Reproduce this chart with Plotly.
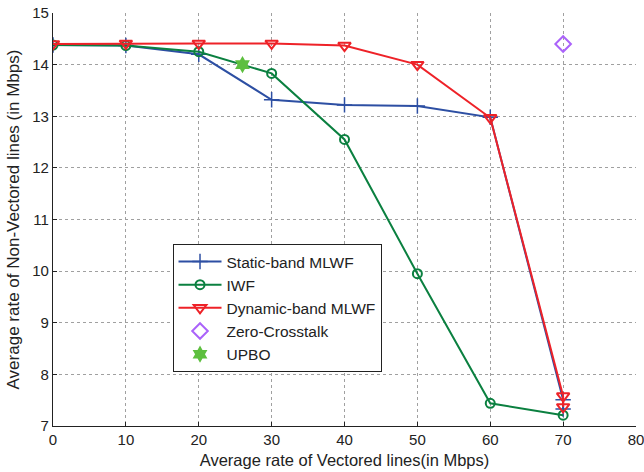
import plotly.graph_objects as go

x_vals = [0, 10, 20, 30, 40, 50, 60, 70, 70]
static_y = [14.38, 14.37, 14.2, 13.32, 13.22, 13.2, 12.98, 7.51, 7.33]
iwf_x = [0, 10, 20, 30, 40, 50, 60, 70]
iwf_y = [14.38, 14.37, 14.25, 13.83, 12.55, 9.95, 7.44, 7.21]
dyn_y = [14.4, 14.41, 14.41, 14.41, 14.37, 14.0, 12.97, 7.58, 7.37]
zero_x = [70]
zero_y = [14.4]
upbo_x = [26]
upbo_y = [14.0]
x_ticks = [0, 10, 20, 30, 40, 50, 60, 70, 80]
y_ticks = [7, 8, 9, 10, 11, 12, 13, 14, 15]

fig = go.Figure()
fig.add_trace(go.Scatter(x=x_vals, y=static_y, mode="lines+markers", name="Static-band MLWF",
                         line=dict(color="#2d4fa3", width=2),
                         marker=dict(symbol="cross-thin", size=11, line=dict(color="#2d4fa3", width=1.5))))
fig.add_trace(go.Scatter(x=iwf_x, y=iwf_y, mode="lines+markers", name="IWF",
                         line=dict(color="#0b8040", width=2),
                         marker=dict(symbol="circle-open", size=9, line=dict(color="#0b8040", width=2))))
fig.add_trace(go.Scatter(x=x_vals, y=dyn_y, mode="lines+markers", name="Dynamic-band MLWF",
                         line=dict(color="#ee2228", width=2),
                         marker=dict(symbol="triangle-down-open", size=11, line=dict(color="#ee2228", width=2))))
fig.add_trace(go.Scatter(x=zero_x, y=zero_y, mode="markers", name="Zero-Crosstalk",
                         marker=dict(symbol="diamond-open", size=12, line=dict(color="#c0509c", width=2))))
fig.add_trace(go.Scatter(x=upbo_x, y=upbo_y, mode="markers", name="UPBO",
                         marker=dict(symbol="hexagram", size=13, color="#5dbf3f", line=dict(width=0))))

axis_common = dict(showline=True, linecolor="#222", linewidth=1.2, mirror=False,
                   ticks="inside", ticklen=4, tickcolor="#222",
                   showgrid=True, gridcolor="#a0a0a0", griddash="dot", gridwidth=1,
                   zeroline=False, automargin=False,
                   tickfont=dict(family="Arial", size=15, color="#222"))

fig.update_layout(
    width=644, height=472,
    margin=dict(l=53, r=8, t=13, b=46),
    paper_bgcolor="white", plot_bgcolor="white",
    font=dict(family="Arial", size=15, color="#222"),
    xaxis=dict(range=[0, 80], tickvals=x_ticks, ticklabeloverflow="allow",
               title=dict(text="Average rate of Vectored lines(in Mbps)", standoff=7,
                          font=dict(size=16.5)),
               **axis_common),
    yaxis=dict(range=[7, 15], tickvals=y_ticks, ticklabeloverflow="allow",
               title=dict(text="Average rate of Non-Vectored lines (in Mbps)", standoff=8,
                          font=dict(size=17)),
               **axis_common),
    legend=dict(x=0.205, y=0.4407, xanchor="left", yanchor="top",
                bgcolor="white", bordercolor="#222", borderwidth=1,
                font=dict(family="Arial", size=15.5, color="#222"),
                tracegroupgap=0, itemwidth=43),
    showlegend=True,
)

fig.write_html("out.html", config={"displayModeBar": False},
               post_script="document.body.style.margin='0';document.body.style.padding='0';")
